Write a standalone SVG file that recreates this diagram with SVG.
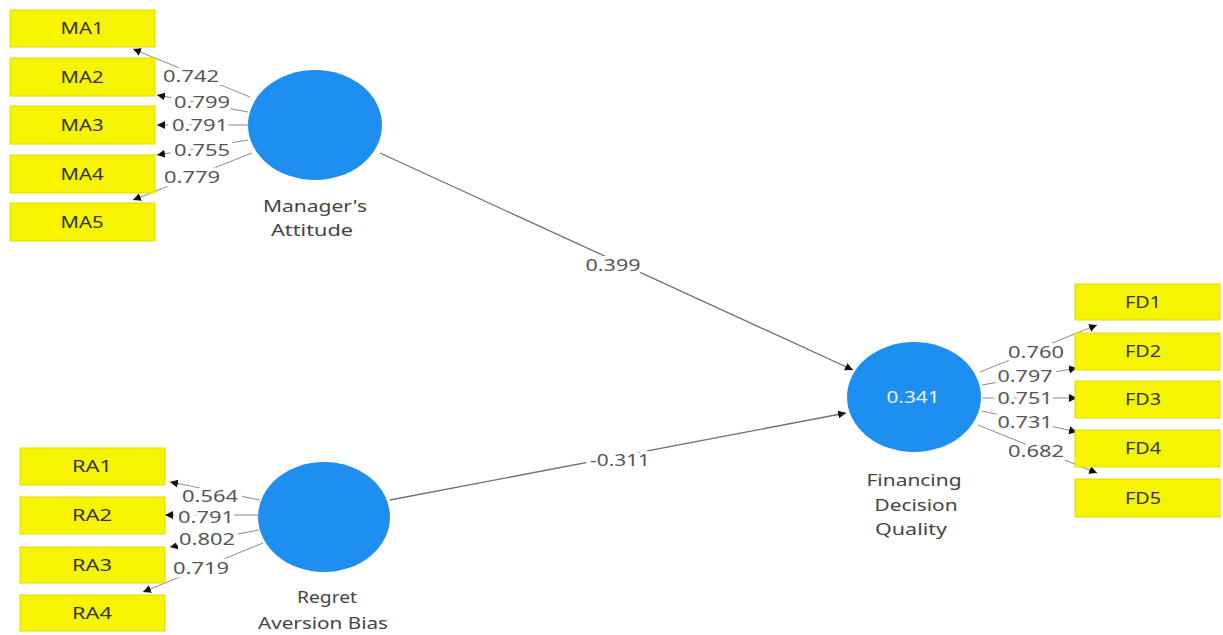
<svg xmlns="http://www.w3.org/2000/svg" width="1223" height="635" viewBox="0 0 1223 635">
<style>
.box{fill:#f7f400;stroke:#e0dc00;stroke-width:1}
.lv{fill:#1e8ff0}
.bt{font-family:"Noto Sans","Open Sans",sans-serif;font-size:17px;fill:#333;text-anchor:middle}
.nt{font-family:"Noto Sans","Open Sans",sans-serif;font-size:16px;fill:#444;text-anchor:middle}
.lbl{font-family:"Noto Sans","Open Sans",sans-serif;font-size:16px;fill:#555;text-anchor:middle;stroke:#fff;stroke-width:7;paint-order:stroke;stroke-linejoin:round}
.r2{font-family:"Noto Sans","Open Sans",sans-serif;font-size:16px;fill:#e8f2ff;text-anchor:middle}
.ind{stroke:#8a8a8a;stroke-width:1;fill:none;marker-end:url(#ah)}
.str{stroke:#707070;stroke-width:1.3;fill:none;marker-end:url(#ah)}
</style>
<defs>
<marker id="ah" viewBox="0 0 8 8" refX="8" refY="4" markerWidth="8" markerHeight="8" markerUnits="userSpaceOnUse" orient="auto">
<path d="M0,0 L8,4 L0,8 z" fill="#111"/>
</marker>
</defs>
<rect width="1223" height="635" fill="#fff"/>
<g id="connectors">
<line class="str" x1="380" y1="153" x2="853" y2="370"/>
<line class="str" x1="390" y1="500" x2="846" y2="413"/>
<line class="ind" x1="250" y1="97" x2="133" y2="49"/>
<line class="ind" x1="248" y1="112" x2="157" y2="95"/>
<line class="ind" x1="248" y1="125" x2="157" y2="125"/>
<line class="ind" x1="248" y1="140" x2="157" y2="155"/>
<line class="ind" x1="252" y1="153" x2="133" y2="200"/>
<line class="ind" x1="260" y1="500" x2="170" y2="482"/>
<line class="ind" x1="258" y1="515" x2="165" y2="515"/>
<line class="ind" x1="259" y1="530" x2="170" y2="547"/>
<line class="ind" x1="263" y1="543" x2="143" y2="592"/>
<line class="ind" x1="980" y1="372" x2="1097" y2="325"/>
<line class="ind" x1="982" y1="385" x2="1077" y2="368"/>
<line class="ind" x1="982" y1="398" x2="1077" y2="398"/>
<line class="ind" x1="982" y1="411" x2="1077" y2="432"/>
<line class="ind" x1="978" y1="425" x2="1097" y2="473"/>
<text class="lbl" x="613" y="271" textLength="55" lengthAdjust="spacingAndGlyphs">0.399</text>
<text class="lbl" x="620" y="466" textLength="60" lengthAdjust="spacingAndGlyphs">-0.311</text>
<text class="lbl" x="191" y="82" textLength="56" lengthAdjust="spacingAndGlyphs">0.742</text>
<text class="lbl" x="202" y="108" textLength="56" lengthAdjust="spacingAndGlyphs">0.799</text>
<text class="lbl" x="200" y="131" textLength="56" lengthAdjust="spacingAndGlyphs">0.791</text>
<text class="lbl" x="202" y="156" textLength="56" lengthAdjust="spacingAndGlyphs">0.755</text>
<text class="lbl" x="192" y="183" textLength="56" lengthAdjust="spacingAndGlyphs">0.779</text>
<text class="lbl" x="210" y="502" textLength="56" lengthAdjust="spacingAndGlyphs">0.564</text>
<text class="lbl" x="206" y="523" textLength="56" lengthAdjust="spacingAndGlyphs">0.791</text>
<text class="lbl" x="207" y="545" textLength="56" lengthAdjust="spacingAndGlyphs">0.802</text>
<text class="lbl" x="201" y="574" textLength="56" lengthAdjust="spacingAndGlyphs">0.719</text>
<text class="lbl" x="1036" y="358" textLength="56" lengthAdjust="spacingAndGlyphs">0.760</text>
<text class="lbl" x="1025" y="382" textLength="55" lengthAdjust="spacingAndGlyphs">0.797</text>
<text class="lbl" x="1025" y="404" textLength="55" lengthAdjust="spacingAndGlyphs">0.751</text>
<text class="lbl" x="1025" y="428" textLength="55" lengthAdjust="spacingAndGlyphs">0.731</text>
<text class="lbl" x="1036" y="457" textLength="56" lengthAdjust="spacingAndGlyphs">0.682</text>
</g>
<g id="MA1"><rect class="box" x="10" y="10" width="145" height="37"/><text class="bt" x="82" y="34" textLength="43" lengthAdjust="spacingAndGlyphs">MA1</text></g>
<g id="MA2"><rect class="box" x="10" y="58" width="145" height="38"/><text class="bt" x="82" y="83" textLength="43" lengthAdjust="spacingAndGlyphs">MA2</text></g>
<g id="MA3"><rect class="box" x="10" y="106" width="145" height="38"/><text class="bt" x="82" y="131" textLength="43" lengthAdjust="spacingAndGlyphs">MA3</text></g>
<g id="MA4"><rect class="box" x="10" y="155" width="145" height="38"/><text class="bt" x="82" y="180" textLength="43" lengthAdjust="spacingAndGlyphs">MA4</text></g>
<g id="MA5"><rect class="box" x="10" y="203" width="145" height="38"/><text class="bt" x="82" y="228" textLength="43" lengthAdjust="spacingAndGlyphs">MA5</text></g>
<g id="RA1"><rect class="box" x="20" y="448" width="145" height="37"/><text class="bt" x="92" y="472" textLength="40" lengthAdjust="spacingAndGlyphs">RA1</text></g>
<g id="RA2"><rect class="box" x="20" y="497" width="145" height="37"/><text class="bt" x="92" y="521" textLength="40" lengthAdjust="spacingAndGlyphs">RA2</text></g>
<g id="RA3"><rect class="box" x="20" y="547" width="145" height="36"/><text class="bt" x="92" y="571" textLength="40" lengthAdjust="spacingAndGlyphs">RA3</text></g>
<g id="RA4"><rect class="box" x="20" y="595" width="145" height="36"/><text class="bt" x="92" y="619" textLength="40" lengthAdjust="spacingAndGlyphs">RA4</text></g>
<g id="FD1"><rect class="box" x="1075" y="284" width="145" height="36"/><text class="bt" x="1143" y="308" textLength="36" lengthAdjust="spacingAndGlyphs">FD1</text></g>
<g id="FD2"><rect class="box" x="1075" y="333" width="145" height="37"/><text class="bt" x="1143" y="357" textLength="36" lengthAdjust="spacingAndGlyphs">FD2</text></g>
<g id="FD3"><rect class="box" x="1075" y="381" width="145" height="37"/><text class="bt" x="1143" y="405" textLength="36" lengthAdjust="spacingAndGlyphs">FD3</text></g>
<g id="FD4"><rect class="box" x="1075" y="430" width="145" height="37"/><text class="bt" x="1143" y="454" textLength="36" lengthAdjust="spacingAndGlyphs">FD4</text></g>
<g id="FD5"><rect class="box" x="1075" y="479" width="145" height="38"/><text class="bt" x="1143" y="504" textLength="36" lengthAdjust="spacingAndGlyphs">FD5</text></g>
<g id="ManagersAttitude">
<ellipse class="lv" cx="315" cy="125" rx="67" ry="55"/>
<text class="nt" x="315" y="212" textLength="104" lengthAdjust="spacingAndGlyphs">Manager's</text>
<text class="nt" x="312" y="236" textLength="82" lengthAdjust="spacingAndGlyphs">Attitude</text>
</g>
<g id="RegretAversionBias">
<ellipse class="lv" cx="324" cy="517" rx="66" ry="55"/>
<text class="nt" x="327" y="603" textLength="60" lengthAdjust="spacingAndGlyphs">Regret</text>
<text class="nt" x="323" y="629" textLength="130" lengthAdjust="spacingAndGlyphs">Aversion Bias</text>
</g>
<g id="FinancingDecisionQuality">
<ellipse class="lv" cx="914" cy="397" rx="67" ry="55"/>
<text class="r2" x="913" y="403" textLength="53" lengthAdjust="spacingAndGlyphs">0.341</text>
<text class="nt" x="914" y="486" textLength="95" lengthAdjust="spacingAndGlyphs">Financing</text>
<text class="nt" x="916" y="511" textLength="83" lengthAdjust="spacingAndGlyphs">Decision</text>
<text class="nt" x="911" y="535" textLength="72" lengthAdjust="spacingAndGlyphs">Quality</text>
</g>
</svg>
